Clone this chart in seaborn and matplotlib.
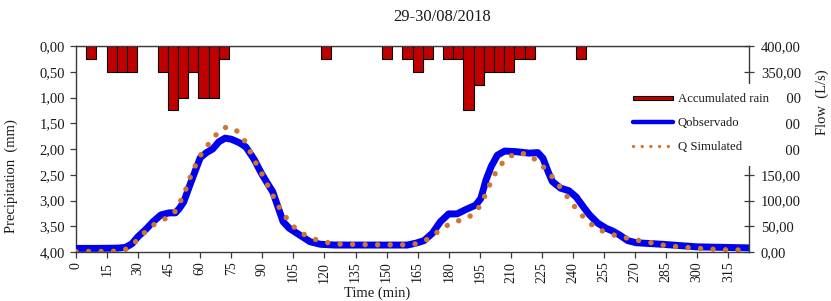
import matplotlib
matplotlib.use("Agg")
import matplotlib.pyplot as plt
import seaborn as sns
import pandas as pd
from matplotlib.ticker import FuncFormatter
from matplotlib.patches import Rectangle
from matplotlib.lines import Line2D
from matplotlib.legend_handler import HandlerPatch

# ---------------- data ----------------
title = "29-30/08/2018"

# rain, one category every 5 min (0..325)
rain_time = list(range(0, 330, 5))
rain_mm = [0, 0.25, 0, 0.5, 0.5, 0.5, 0, 0, 0.5, 1.25,
           1.0, 0.5, 1.0, 1.0, 0.25, 0, 0, 0, 0, 0,
           0, 0, 0, 0, 0.25, 0, 0, 0, 0, 0,
           0.25, 0, 0.25, 0.5, 0.25, 0, 0.25, 0.25, 1.25, 0.75,
           0.5, 0.5, 0.5, 0.25, 0.25, 0, 0, 0, 0, 0.25,
           0, 0, 0, 0, 0, 0, 0, 0, 0, 0,
           0, 0, 0, 0, 0, 0]

# observed flow (L/s)
obs_time = [0, 10, 20, 24, 27, 30, 34, 37, 41, 45, 48, 50, 52, 55, 58, 60, 63, 66,
            69, 72, 75, 79, 82, 86, 89.5, 92.5, 95, 97.5, 100, 103, 108, 113, 118,
            125, 140, 160, 164, 168, 172, 176, 180, 184, 188, 193, 195.5, 198,
            200.5, 203.5, 207, 212, 219, 223, 225.5, 228, 230, 234, 238, 241.5,
            245.5, 248, 252, 256, 259, 262.5, 266.5, 270.5, 283, 300, 325]
obs_flow = [7, 7, 7.5, 9, 16, 30, 45, 58, 72, 76, 76, 85, 97, 130, 162, 183, 193, 200,
            214, 221, 219, 212, 204, 180, 153, 133, 117, 88, 59, 46, 33, 20, 15,
            13.5, 13.5, 13.5, 17, 22, 36, 59, 74, 74, 82, 91, 104, 140,
            166, 188, 196, 195, 192, 193, 182, 156, 137, 124, 119, 107,
            85, 72, 56, 46, 41, 33, 22, 18, 15, 10, 8]

# simulated flow (L/s)
sim_time = [0, 10, 20, 23.6, 28.5, 32.6, 37.1, 42.6, 47.5, 50.4, 52.8, 54.8, 57.2,
            59.8, 63.3, 67, 71.4, 76.5, 80.5, 83.4, 85.8, 89, 91.6, 94.3, 97.1,
            100.3, 103.7, 108.4, 113.4, 119.3, 125.3, 131, 145, 162, 167.3, 172.1,
            176.8, 182.1, 187.7, 192.9, 196.1, 198.5, 200.9, 203.8, 207.4, 212.4,
            218.3, 223.2, 227.5, 231.2, 234.9, 238.4, 242, 246, 250.2, 255.6,
            261.5, 267.5, 273.6, 279.2, 285.2, 291.3, 297.3, 303.1, 309.1, 315.2,
            321.1, 325]
sim_flow = [1, 1, 1.5, 4, 19, 36, 52, 63.5, 76, 98, 119, 142, 164,
            186, 206, 225, 242, 240, 223, 201, 180, 158, 137, 116, 93,
            74, 54, 38, 27, 20, 15.5, 15, 14, 14, 19, 31,
            46, 58, 63.5, 76, 96.5, 119, 141, 162.5, 180, 192,
            190, 175, 158, 140, 120, 101, 81.5, 64, 49, 38,
            31, 26, 21, 17, 12, 10, 8, 6.4, 5, 4,
            4, 4]

x_ticks = list(range(0, 316, 15))
left_ticks = [0, 0.5, 1.0, 1.5, 2.0, 2.5, 3.0, 3.5, 4.0]
right_ticks = [0, 50, 100, 150, 200, 250, 300, 350, 400]
legend_labels = ["Accumulated rain", "Qobservado", "Q Simulated"]

# ---------------- style ----------------
RED = "#C00000"
BLUE = "#0000F0"
ORANGE = "#CF7630"
AXC = "#3a3a3a"
TXT = "#1a1a1a"

sns.set_style("ticks")
plt.rcParams["font.family"] = ["Liberation Serif", "DejaVu Serif"]

W, H = 831, 301
fig = plt.figure(figsize=(W / 100, H / 100), dpi=100)
rect = [76 / W, 1 - 252 / H, (749 - 76) / W, (252 - 46) / H]
ax_p = fig.add_axes(rect)
ax_q = fig.add_axes(rect, facecolor="none")

comma = FuncFormatter(lambda v, p: f"{v:.2f}".replace(".", ","))

# rain bars
df_rain = pd.DataFrame({"time": rain_time, "rain": rain_mm})
sns.barplot(data=df_rain, x="time", y="rain", order=rain_time, ax=ax_p,
            color=RED, saturation=1, edgecolor="black", linewidth=0.8, width=1.0)
ax_p.set_xlim(-0.5, len(rain_time) - 0.5)
ax_p.set_ylim(4, 0)
ax_p.set_yticks(left_ticks)
ax_p.yaxis.set_major_formatter(comma)
ax_p.xaxis.set_visible(False)
ax_p.set_ylabel("")
for s in ["right", "bottom"]:
    ax_p.spines[s].set_visible(False)
for s in ["left", "top"]:
    ax_p.spines[s].set_color(AXC)
    ax_p.spines[s].set_linewidth(1.0)
ax_p.tick_params(axis="y", direction="out", length=4, width=0.9, color=AXC,
                 pad=4, labelsize=10.5, labelcolor=TXT)

# flows
df_obs = pd.DataFrame({"t": obs_time, "q": obs_flow})
df_sim = pd.DataFrame({"t": sim_time, "q": sim_flow})
sns.lineplot(data=df_obs, x="t", y="q", ax=ax_q, color=BLUE, lw=5.0,
             solid_capstyle="round", solid_joinstyle="round")
sns.lineplot(data=df_sim, x="t", y="q", ax=ax_q, color=ORANGE, lw=3.9,
             linestyle=(0, (0.01, 2.3)), dash_capstyle="round")
ax_q.set_xlim(0, 325)
ax_q.set_ylim(0, 400)
ax_q.set_xticks(x_ticks)
ax_q.set_xticklabels([str(v) for v in x_ticks], rotation=90)
ax_q.set_yticks(right_ticks)
ax_q.yaxis.set_major_formatter(comma)
ax_q.yaxis.tick_right()
ax_q.set_xlabel("")
ax_q.set_ylabel("")
for s in ["left", "top"]:
    ax_q.spines[s].set_visible(False)
for s in ["right", "bottom"]:
    ax_q.spines[s].set_visible(True)
    ax_q.spines[s].set_color(AXC)
    ax_q.spines[s].set_linewidth(1.0)
ax_q.tick_params(axis="y", direction="inout", length=7, width=0.9, color=AXC,
                 pad=5, labelsize=10.5, labelcolor=TXT)
ax_q.tick_params(axis="x", direction="out", length=4, width=0.9, color=AXC,
                 pad=3, labelsize=10, labelcolor=TXT)

# white box behind legend (covers part of right axis)
fig.add_artist(Rectangle((624 / W, 1 - 166 / H), (786 - 624) / W, (166 - 84) / H,
                         transform=fig.transFigure, facecolor="white",
                         edgecolor="none", zorder=4))

rain_handle = Rectangle((0, 0), 1, 1, facecolor=RED, edgecolor="black", lw=0.8)
obs_handle = Line2D([], [], color=BLUE, lw=3.2)
sim_handle = Line2D([], [], color=ORANGE, lw=2.4, linestyle=(0, (0.01, 2.6)),
                    dash_capstyle="round")


def flat_rect(legend, orig_handle, xdescent, ydescent, width, height, fontsize):
    return Rectangle((-xdescent, -ydescent + height * 0.22), width, height * 0.5)


leg = fig.legend([rain_handle, obs_handle, sim_handle], legend_labels,
                 loc="upper left", bbox_to_anchor=(623 / W, 1 - 83 / H),
                 frameon=False, fontsize=9.2, handlelength=3.1,
                 handletextpad=0.4, labelspacing=0.95, borderpad=0.3,
                 handler_map={Rectangle: HandlerPatch(patch_func=flat_rect)})
leg.set_zorder(6)
for t in leg.get_texts():
    t.set_color(TXT)

# texts
fig.text(442 / W, 1 - 17 / H, title, ha="center", va="center", fontsize=12, color=TXT)
fig.text(377 / W, 1 - 293 / H, "Time (min)", ha="center", va="center",
         fontsize=10.5, color=TXT)
fig.text(11 / W, 1 - 176 / H, "Precipitation  (mm)", ha="center", va="center",
         rotation=90, fontsize=10.5, color=TXT)
fig.text(822 / W, 1 - 102 / H, "Flow  (L/s)", ha="center", va="center",
         rotation=90, fontsize=10.5, color=TXT)

fig.savefig("out.png", dpi=100)
